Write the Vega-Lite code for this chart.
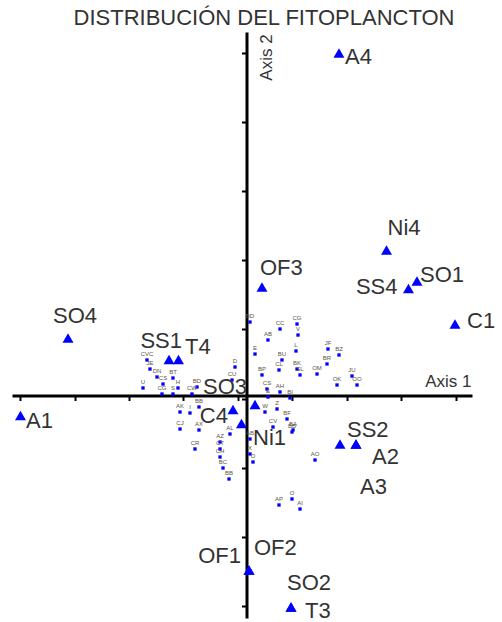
{
  "$schema": "https://vega.github.io/schema/vega-lite/v6.json",
  "width": 460,
  "height": 586,
  "autosize": {"type": "none"},
  "padding": {"left": 12, "top": 32, "right": 30, "bottom": 4},
  "background": "white",
  "title": {"text": "DISTRIBUCIÓN DEL FITOPLANCTON", "fontSize": 22, "font": "Liberation Sans", "fontWeight": "normal", "color": "#333", "anchor": "middle", "dx": 22, "offset": 2},
  "config": {
    "view": {"stroke": null},
    "text": {"font": "Liberation Sans", "fontSize": 22, "color": "#333", "baseline": "alphabetic"}
  },
  "datasets": {
    "sites": [
      {"site": "A4", "a1": 1.697, "a2": 4.955},
      {"site": "Ni4", "a1": 2.569, "a2": 2.105},
      {"site": "SO1", "a1": 3.128, "a2": 1.656},
      {"site": "SS4", "a1": 2.972, "a2": 1.548},
      {"site": "C1", "a1": 3.826, "a2": 1.034},
      {"site": "OF3", "a1": 0.284, "a2": 1.570},
      {"site": "SO4", "a1": -3.275, "a2": 0.832},
      {"site": "SS1", "a1": -1.422, "a2": 0.521},
      {"site": "T4", "a1": -1.248, "a2": 0.521},
      {"site": "SO3", "a1": 0.156, "a2": -0.130},
      {"site": "C4", "a1": -0.248, "a2": -0.203},
      {"site": "Ni1", "a1": -0.092, "a2": -0.405},
      {"site": "A1", "a1": -4.147, "a2": -0.289},
      {"site": "SS2", "a1": 1.716, "a2": -0.702},
      {"site": "A2", "a1": 2.009, "a2": -0.702},
      {"site": "A3", "a1": 2.009, "a2": -0.702},
      {"site": "OF1", "a1": 0.046, "a2": -2.524},
      {"site": "OF2", "a1": 0.046, "a2": -2.524},
      {"site": "SO2", "a1": 0.817, "a2": -3.060},
      {"site": "T3", "a1": 0.817, "a2": -3.060}
    ],
    "species": [
      {"code": "BD", "a1": 0.064, "a2": 1.063},
      {"code": "CC", "a1": 0.615, "a2": 0.962},
      {"code": "CG", "a1": 0.927, "a2": 1.034},
      {"code": "V", "a1": 0.945, "a2": 0.875},
      {"code": "AB", "a1": 0.394, "a2": 0.803},
      {"code": "E", "a1": 0.156, "a2": 0.600},
      {"code": "L", "a1": 0.908, "a2": 0.644},
      {"code": "BU", "a1": 0.651, "a2": 0.514},
      {"code": "JF", "a1": 1.495, "a2": 0.673},
      {"code": "BZ", "a1": 1.697, "a2": 0.586},
      {"code": "BR", "a1": 1.477, "a2": 0.456},
      {"code": "BK", "a1": 0.927, "a2": 0.383},
      {"code": "SL", "a1": 0.982, "a2": 0.297},
      {"code": "CL", "a1": 0.596, "a2": 0.369},
      {"code": "OM", "a1": 1.294, "a2": 0.311},
      {"code": "D", "a1": -0.211, "a2": 0.412},
      {"code": "BP", "a1": 0.284, "a2": 0.297},
      {"code": "CU", "a1": -0.266, "a2": 0.224},
      {"code": "CS", "a1": 0.376, "a2": 0.094},
      {"code": "AH", "a1": 0.615, "a2": 0.051},
      {"code": "E", "a1": 0.394, "a2": -0.022},
      {"code": "BI", "a1": 0.798, "a2": -0.036},
      {"code": "JU", "a1": 1.936, "a2": 0.282},
      {"code": "OK", "a1": 1.661, "a2": 0.152},
      {"code": "OO", "a1": 2.028, "a2": 0.152},
      {"code": "CVC", "a1": -1.826, "a2": 0.514},
      {"code": "JE", "a1": -1.771, "a2": 0.383},
      {"code": "DN", "a1": -1.642, "a2": 0.268},
      {"code": "BT", "a1": -1.349, "a2": 0.253},
      {"code": "BD", "a1": -0.908, "a2": 0.123},
      {"code": "CW", "a1": -1.000, "a2": 0.022},
      {"code": "U", "a1": -1.899, "a2": 0.109},
      {"code": "CS", "a1": -1.532, "a2": 0.166},
      {"code": "CG", "a1": -1.550, "a2": 0.022},
      {"code": "S", "a1": -1.349, "a2": 0.022},
      {"code": "H", "a1": -1.257, "a2": 0.109},
      {"code": "AK", "a1": -1.220, "a2": -0.239},
      {"code": "I", "a1": -1.037, "a2": -0.253},
      {"code": "BB", "a1": -0.872, "a2": -0.166},
      {"code": "CJ", "a1": -1.220, "a2": -0.485},
      {"code": "AX", "a1": -0.872, "a2": -0.499},
      {"code": "CR", "a1": -0.945, "a2": -0.774},
      {"code": "AL", "a1": -0.303, "a2": -0.557},
      {"code": "AZ", "a1": -0.486, "a2": -0.673},
      {"code": "CT", "a1": -0.486, "a2": -0.774},
      {"code": "CH", "a1": -0.486, "a2": -0.890},
      {"code": "BC", "a1": -0.431, "a2": -1.049},
      {"code": "BB", "a1": -0.321, "a2": -1.208},
      {"code": "W", "a1": 0.339, "a2": -0.239},
      {"code": "Z", "a1": 0.560, "a2": -0.195},
      {"code": "BF", "a1": 0.743, "a2": -0.340},
      {"code": "BA", "a1": 0.853, "a2": -0.499},
      {"code": "CV", "a1": 0.486, "a2": -0.456},
      {"code": "AB", "a1": 0.064, "a2": -0.629},
      {"code": "X", "a1": 0.064, "a2": -0.846},
      {"code": "O", "a1": 0.119, "a2": -0.962},
      {"code": "BB", "a1": 0.835, "a2": -0.528},
      {"code": "AO", "a1": 1.257, "a2": -0.933},
      {"code": "AP", "a1": 0.596, "a2": -1.584},
      {"code": "O", "a1": 0.835, "a2": -1.497},
      {"code": "AI", "a1": 0.982, "a2": -1.642}
    ]
  },
  "encoding": {
    "x": {
      "field": "a1", "type": "quantitative",
      "scale": {"domain": [-4.3028, 4.1376], "nice": false, "zero": false},
      "axis": {
        "orient": "bottom", "offset": -222.5,
        "values": [-4.156, -3.156, -2.156, -1.156, -0.156, 0.844, 1.844, 2.844, 3.844],
        "labels": false, "grid": false,
        "domainWidth": 3, "domainColor": "#000",
        "tickWidth": 2, "tickSize": 5, "tickColor": "#000",
        "title": "Axis 1", "titleX": 459, "titleY": -9.5, "titleAlign": "right", "titleBaseline": "alphabetic",
        "titleFontSize": 17, "titleFontWeight": "normal", "titleFont": "Liberation Sans", "titleColor": "#333"
      }
    },
    "y": {
      "field": "a2", "type": "quantitative",
      "scale": {"domain": [-3.219, 5.259], "nice": false, "zero": false},
      "axis": {
        "orient": "left", "offset": -234.5,
        "values": [4.955, 3.955, 2.955, 1.955, 0.955, -0.045, -1.045, -2.045, -3.045],
        "labels": false, "grid": false,
        "domainWidth": 3, "domainColor": "#000",
        "tickWidth": 2, "tickSize": 5, "tickColor": "#000",
        "title": "Axis 2", "titleX": 24.5, "titleY": 25, "titleAngle": 270, "titleAlign": "center", "titleBaseline": "alphabetic",
        "titleFontSize": 17, "titleFontWeight": "normal", "titleFont": "Liberation Sans", "titleColor": "#333"
      }
    }
  },
  "layer": [
    {"data": {"name": "species"}, "mark": {"type": "point", "shape": "square", "filled": true, "size": 11, "color": "#0000ff", "opacity": 1}},
    {"data": {"name": "species"}, "mark": {"type": "text", "fontSize": 6, "color": "#5e5244", "align": "center", "baseline": "middle", "dy": -6}, "encoding": {"text": {"field": "code"}}},
    {"data": {"name": "sites"}, "mark": {"type": "point", "shape": "triangle-up", "filled": true, "size": 120, "color": "#0000ff", "opacity": 1}},
    {"data": {"name": "sites"}, "transform": [{"filter": "datum.site === 'A4'"}], "mark": {"type": "text", "align": "left", "dx": 6, "dy": 11}, "encoding": {"text": {"field": "site"}}},
    {"data": {"name": "sites"}, "transform": [{"filter": "datum.site === 'Ni4'"}], "mark": {"type": "text", "align": "left", "dx": 1, "dy": -15}, "encoding": {"text": {"field": "site"}}},
    {"data": {"name": "sites"}, "transform": [{"filter": "datum.site === 'SO1'"}], "mark": {"type": "text", "align": "left", "dx": 3, "dy": 1}, "encoding": {"text": {"field": "site"}}},
    {"data": {"name": "sites"}, "transform": [{"filter": "datum.site === 'SS4'"}], "mark": {"type": "text", "align": "right", "dx": -11, "dy": 5.5}, "encoding": {"text": {"field": "site"}}},
    {"data": {"name": "sites"}, "transform": [{"filter": "datum.site === 'C1'"}], "mark": {"type": "text", "align": "left", "dx": 12, "dy": 4}, "encoding": {"text": {"field": "site"}}},
    {"data": {"name": "sites"}, "transform": [{"filter": "datum.site === 'OF3'"}], "mark": {"type": "text", "align": "left", "dx": -2, "dy": -12}, "encoding": {"text": {"field": "site"}}},
    {"data": {"name": "sites"}, "transform": [{"filter": "datum.site === 'SO4'"}], "mark": {"type": "text", "align": "center", "dx": 7, "dy": -15}, "encoding": {"text": {"field": "site"}}},
    {"data": {"name": "sites"}, "transform": [{"filter": "datum.site === 'SS1'"}], "mark": {"type": "text", "align": "right", "dx": 13, "dy": -11.5}, "encoding": {"text": {"field": "site"}}},
    {"data": {"name": "sites"}, "transform": [{"filter": "datum.site === 'T4'"}], "mark": {"type": "text", "align": "left", "dx": 6.5, "dy": -5.5}, "encoding": {"text": {"field": "site"}}},
    {"data": {"name": "sites"}, "transform": [{"filter": "datum.site === 'SO3'"}], "mark": {"type": "text", "align": "right", "dx": -8, "dy": -10.5}, "encoding": {"text": {"field": "site"}}},
    {"data": {"name": "sites"}, "transform": [{"filter": "datum.site === 'C4'"}], "mark": {"type": "text", "align": "right", "dx": -5, "dy": 13.5}, "encoding": {"text": {"field": "site"}}},
    {"data": {"name": "sites"}, "transform": [{"filter": "datum.site === 'Ni1'"}], "mark": {"type": "text", "align": "left", "dx": 11.5, "dy": 21.5}, "encoding": {"text": {"field": "site"}}},
    {"data": {"name": "sites"}, "transform": [{"filter": "datum.site === 'A1'"}], "mark": {"type": "text", "align": "left", "dx": 5.5, "dy": 12.5}, "encoding": {"text": {"field": "site"}}},
    {"data": {"name": "sites"}, "transform": [{"filter": "datum.site === 'SS2'"}], "mark": {"type": "text", "align": "left", "dx": 7, "dy": -7}, "encoding": {"text": {"field": "site"}}},
    {"data": {"name": "sites"}, "transform": [{"filter": "datum.site === 'A2'"}], "mark": {"type": "text", "align": "left", "dx": 16, "dy": 20}, "encoding": {"text": {"field": "site"}}},
    {"data": {"name": "sites"}, "transform": [{"filter": "datum.site === 'A3'"}], "mark": {"type": "text", "align": "left", "dx": 4, "dy": 50}, "encoding": {"text": {"field": "site"}}},
    {"data": {"name": "sites"}, "transform": [{"filter": "datum.site === 'OF1'"}], "mark": {"type": "text", "align": "right", "dx": -8, "dy": -7}, "encoding": {"text": {"field": "site"}}},
    {"data": {"name": "sites"}, "transform": [{"filter": "datum.site === 'OF2'"}], "mark": {"type": "text", "align": "left", "dx": 5, "dy": -15}, "encoding": {"text": {"field": "site"}}},
    {"data": {"name": "sites"}, "transform": [{"filter": "datum.site === 'SO2'"}], "mark": {"type": "text", "align": "left", "dx": -4, "dy": -17}, "encoding": {"text": {"field": "site"}}},
    {"data": {"name": "sites"}, "transform": [{"filter": "datum.site === 'T3'"}], "mark": {"type": "text", "align": "left", "dx": 14, "dy": 11}, "encoding": {"text": {"field": "site"}}}
  ]
}
